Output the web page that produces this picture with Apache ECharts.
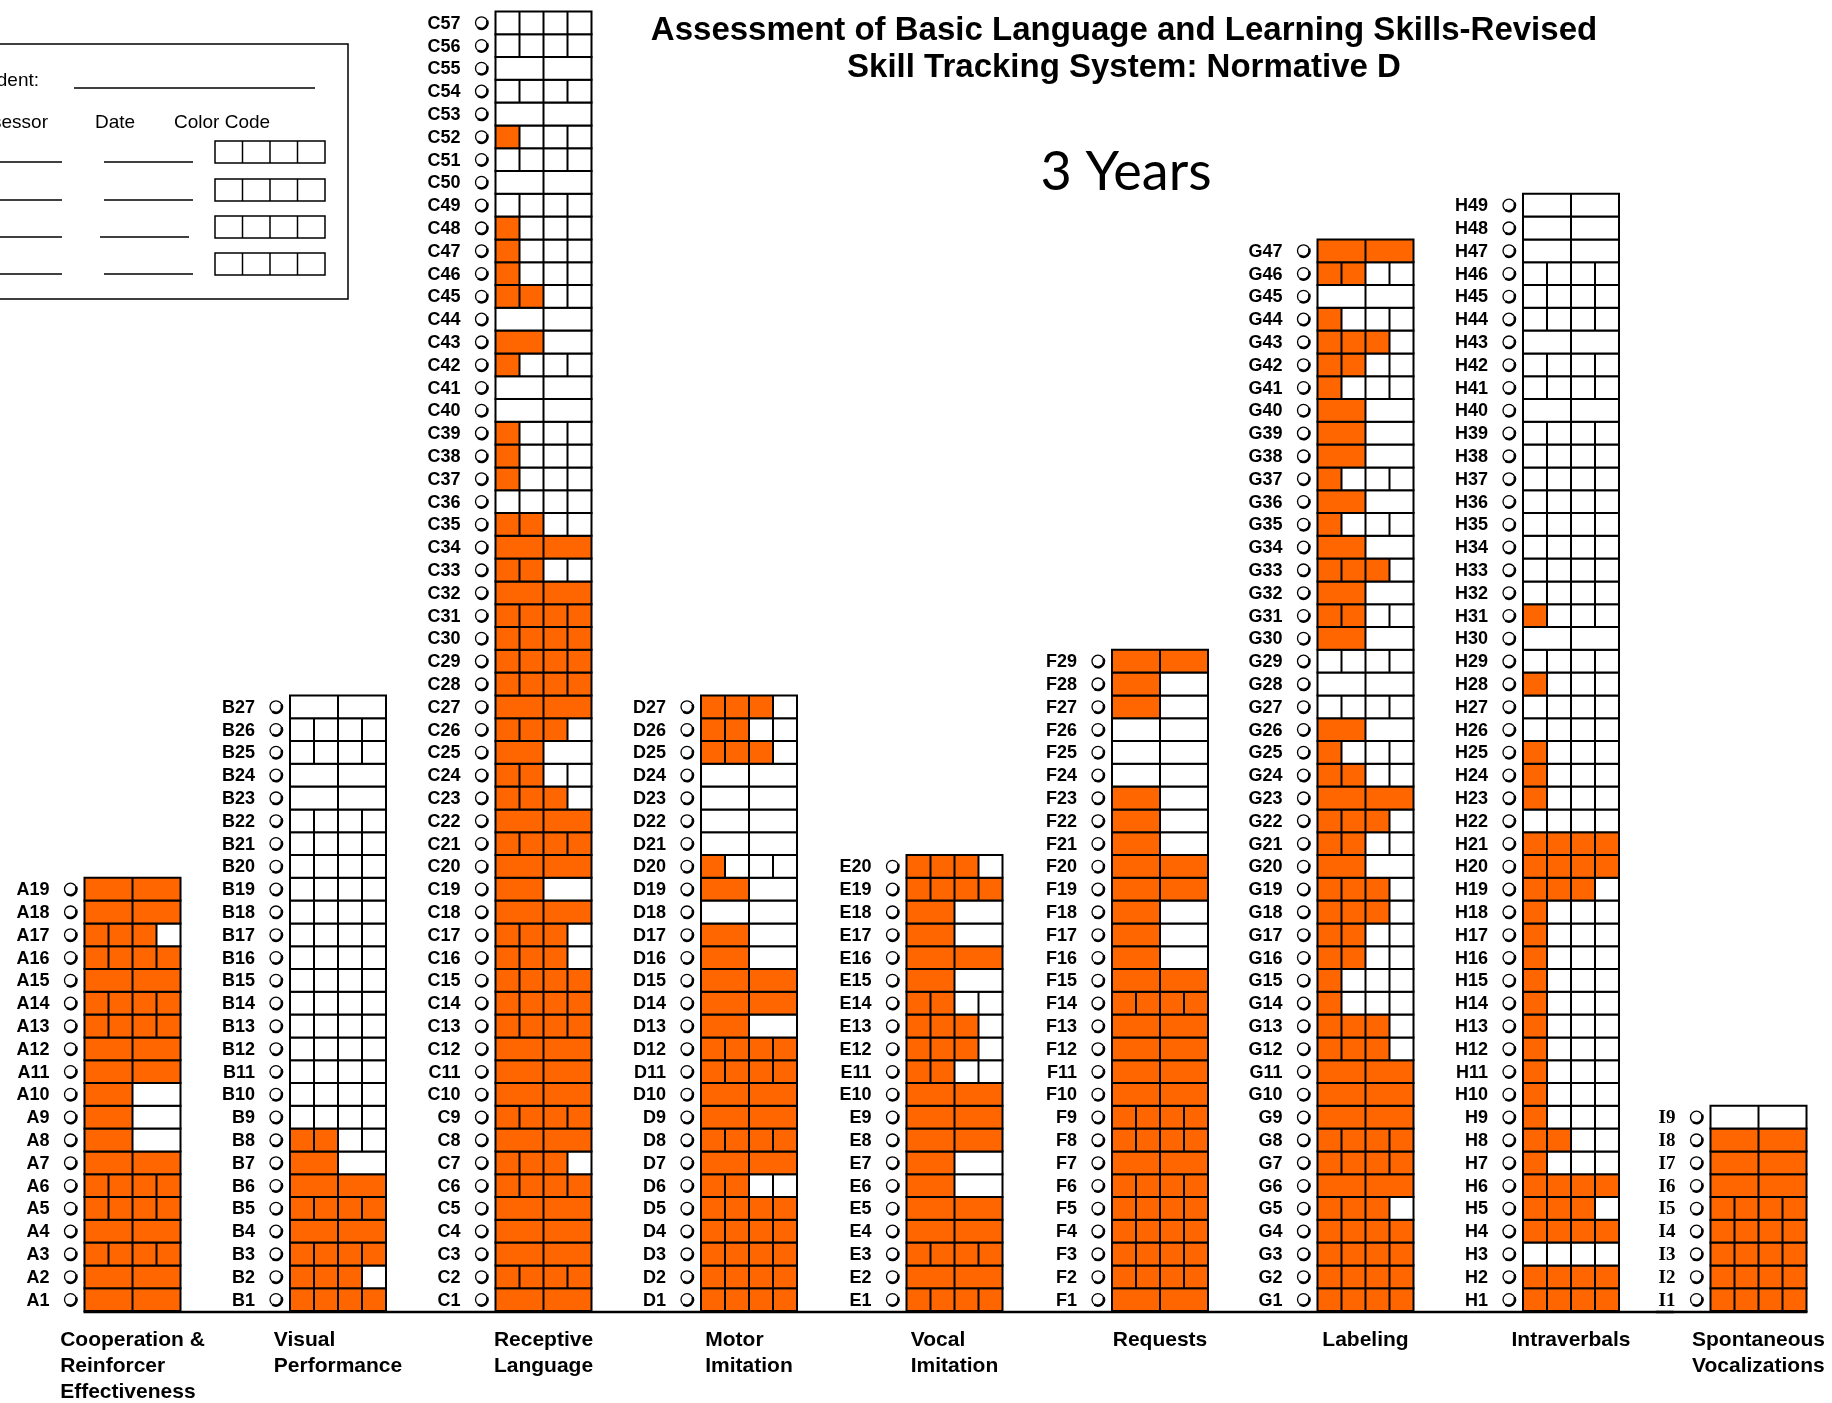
<!DOCTYPE html>
<html><head><meta charset="utf-8">
<script src="https://cdn.jsdelivr.net/npm/echarts@6/dist/echarts.min.js"></script>
<style>html,body{margin:0;padding:0;background:#fff;}#chart{width:1832px;height:1403px;}</style>
</head><body><div id="chart"></div>
<script>
// ---- DATA ----
const categories = ['Cooperation &\nReinforcer\nEffectiveness', 'Visual\nPerformance', 'Receptive\nLanguage', 'Motor\nImitation', 'Vocal\nImitation', 'Requests', 'Labeling', 'Intraverbals', 'Spontaneous\nVocalizations'];
const prefixes = ['A','B','C','D','E','F','G','H','I'];
// number of sub-boxes per skill (skill 1 first) and number of sub-boxes filled
const divsA = [2,2,4,2,4,4,2,2,2,2,2,2,4,4,2,4,4,2,2];
const fillA = [2,2,4,2,4,4,2,1,1,1,2,2,4,4,2,4,3,2,2];
const divsB = [4,4,4,2,4,2,2,4,4,4,4,4,4,4,4,4,4,4,4,4,4,4,2,2,4,4,2];
const fillB = [4,3,4,2,4,2,1,2,0,0,0,0,0,0,0,0,0,0,0,0,0,0,0,0,0,0,0];
const divsC = [2,4,2,2,2,4,4,2,4,2, 2,2,4,4,4,4,4,2,2,2, 4,2,4,4,2,4,2,4,4,4, 4,2,4,2,4,4,4,4,4,2, 2,4,2,2,4,4,4,4,4,2, 4,4,2,4,2,4,4];
const fillC = [2,4,2,2,2,4,3,2,4,2, 2,2,4,4,4,3,3,2,1,2, 4,2,3,2,1,3,2,4,4,4, 4,2,2,2,2,0,1,1,1,0, 0,1,1,0,2,1,1,1,0,0, 0,1,0,0,0,0,0];
const divsD = [4,4,4,4,4,4,2,4,2,2, 4,4,2,2,2,2,2,2,2,4, 2,2,2,2,4,4,4];
const fillD = [4,4,4,4,4,2,2,4,2,2, 4,4,1,2,2,1,1,0,1,1, 0,0,0,0,3,2,3];
const divsE = [4,2,4,2,2,2,2,2,2,2, 4,4,4,4,2,2,2,2,4,4];
const fillE = [4,2,4,2,2,1,1,2,2,2, 2,3,3,2,1,2,1,1,4,3];
const divsF = [2,4,4,4,4,4,2,4,4,2, 2,2,2,4,2,2,2,2,2,2, 2,2,2,2,2,2,2,2,2];
const fillF = [2,4,4,4,4,4,2,4,4,2, 2,2,2,4,2,1,1,1,2,2, 1,1,1,0,0,0,1,1,2];
const divsG = [4,4,4,4,4,2,4,4,2,2, 2,4,4,4,4,4,4,4,4,2, 4,4,2,4,4,2,4,2,4,2, 4,2,4,2,4,2,4,2,2,2, 4,4,4,4,2,4,2];
const fillG = [4,4,4,4,3,2,4,4,2,2, 2,3,3,1,1,2,2,3,3,1, 2,3,2,2,1,1,0,0,0,1, 2,1,3,1,1,1,1,1,1,1, 1,2,3,1,0,2,2];
const divsH = [4,4,4,4,4,4,4,4,4,4, 4,4,4,4,4,4,4,4,4,4, 4,4,4,4,4,4,4,4,4,2, 4,4,4,4,4,4,4,4,4,2, 4,4,2,4,4,4,2,2,2];
const fillH = [4,4,0,4,3,4,1,2,1,1, 1,1,1,1,1,1,1,1,3,4, 4,0,1,1,1,0,0,1,0,0, 1,0,0,0,0,0,0,0,0,0, 0,0,0,0,0,0,0,0,0];
const divsI = [4,4,4,4,4,2,2,2,2];
const fillI = [4,4,4,4,4,2,2,2,0];
const maxRows = 57;

// ---- LAYOUT / STYLE ----
const ORANGE = '#FF6600';
const BOX_W = 96;
const SANS = '"Liberation Sans", Arial, sans-serif';
const BAND = 205.5;
const GRID_TOP = 11.4, GRID_H = 1299.6;

const allDivs = [divsA, divsB, divsC, divsD, divsE, divsF, divsG, divsH, divsI];
const allFills = [fillA, fillB, fillC, fillD, fillE, fillF, fillG, fillH, fillI];
const cellsMain = [], cellsLast = [];
allDivs.forEach((d, c) => d.forEach((v, r) => {
  if (c < 8) cellsMain.push([c, r + 1, v, allFills[c][r], c]);
  else cellsLast.push([0, r + 1, v, allFills[c][r], c]);
}));

function renderCell(params, api) {
  const xi = api.value(0), row = api.value(1), div = api.value(2), fill = api.value(3), col = api.value(4);
  const top = api.coord([xi, row]);
  const bot = api.coord([xi, row - 1]);
  const x0 = top[0] - BOX_W / 2, y0 = top[1], h = bot[1] - top[1];
  const yc = y0 + h / 2;
  const ch = [];
  ch.push({type: 'rect', shape: {x: x0, y: y0, width: BOX_W, height: h}, style: {fill: '#fff'}});
  if (fill > 0) ch.push({type: 'rect', shape: {x: x0, y: y0, width: BOX_W * fill / div, height: h}, style: {fill: ORANGE}});
  for (let k = 1; k < div; k++) {
    const x = x0 + BOX_W * k / div;
    ch.push({type: 'line', shape: {x1: x, y1: y0, x2: x, y2: y0 + h}, style: {stroke: '#000', lineWidth: 2}});
  }
  ch.push({type: 'rect', shape: {x: x0, y: y0, width: BOX_W, height: h}, style: {fill: 'none', stroke: '#000', lineWidth: 2}});
  const isI = prefixes[col] === 'I';
  ch.push({type: 'text', style: {text: prefixes[col] + row, x: x0 - 35, y: yc + 1,
    align: 'right', verticalAlign: 'middle', textAlign: 'right', textVerticalAlign: 'middle',
    font: isI ? 'bold 19px "Liberation Serif", serif' : 'bold 18px ' + SANS, fill: '#000'}});
  const ccx = x0 - 14;
  ch.push({type: 'circle', shape: {cx: ccx, cy: yc, r: 6}, style: {fill: 'none', stroke: '#000', lineWidth: 1.3}});
  ch.push({type: 'arc', shape: {cx: ccx, cy: yc, r: 6, startAngle: -0.4, endAngle: 2.2, clockwise: true}, style: {fill: 'none', stroke: '#000', lineWidth: 2.6}});
  return {type: 'group', children: ch};
}

function baseRenderer(firstIdx, lastIdx, extendRight, extendLeft) {
  return function (params, api) {
    const p0 = api.coord([firstIdx, 0]);
    const p1 = api.coord([lastIdx, 0]);
    const band = api.size([1, 0])[0];
    const x1 = extendLeft ? p0[0] - band / 2 : p0[0] - BOX_W / 2 - 1;
    const x2 = extendRight ? p1[0] + band / 2 : p1[0] + BOX_W / 2 + 1;
    return {type: 'line', shape: {x1: x1, y1: p0[1] + 1, x2: x2, y2: p1[1] + 1}, style: {stroke: '#000', lineWidth: 2.5}};
  };
}

// legend box graphics
const legend = [
  {type: 'rect', shape: {x: -10, y: 44, width: 358, height: 255}, style: {fill: 'none', stroke: '#000', lineWidth: 1.5}},
  {type: 'text', style: {text: 'Student:', x: 39, y: 81, align: 'right', verticalAlign: 'middle', textAlign: 'right', textVerticalAlign: 'middle', font: '19px ' + SANS, fill: '#000'}},
  {type: 'line', shape: {x1: 74, y1: 88, x2: 315, y2: 88}, style: {stroke: '#000', lineWidth: 1.5}},
  {type: 'text', style: {text: 'Assessor', x: 48, y: 123, align: 'right', verticalAlign: 'middle', textAlign: 'right', textVerticalAlign: 'middle', font: '19px ' + SANS, fill: '#000'}},
  {type: 'text', style: {text: 'Date', x: 95, y: 123, align: 'left', verticalAlign: 'middle', textAlign: 'left', textVerticalAlign: 'middle', font: '19px ' + SANS, fill: '#000'}},
  {type: 'text', style: {text: 'Color Code', x: 174, y: 123, align: 'left', verticalAlign: 'middle', textAlign: 'left', textVerticalAlign: 'middle', font: '19px ' + SANS, fill: '#000'}}
];
[[162, 104], [200, 104], [237, 100], [274, 104]].forEach(([y, dx]) => {
  legend.push({type: 'line', shape: {x1: 0, y1: y, x2: 62, y2: y}, style: {stroke: '#000', lineWidth: 1.5}});
  legend.push({type: 'line', shape: {x1: dx, y1: y, x2: dx + 89, y2: y}, style: {stroke: '#000', lineWidth: 1.5}});
  legend.push({type: 'rect', shape: {x: 215, y: y - 21, width: 110, height: 22}, style: {fill: 'none', stroke: '#000', lineWidth: 1.5}});
  for (let k = 1; k < 4; k++) {
    const x = 215 + 110 * k / 4;
    legend.push({type: 'line', shape: {x1: x, y1: y - 21, x2: x, y2: y + 1}, style: {stroke: '#000', lineWidth: 1.5}});
  }
});

const xLabel = {interval: 0, margin: 16, align: 'center', verticalAlign: 'top', hideOverlap: false,
  formatter: (v) => v.split('\n').map(l => '{l|' + l + '}').join('\n'),
  rich: {l: {align: 'left', fontSize: 21, fontWeight: 'bold', fontFamily: SANS, color: '#000', lineHeight: 26}}};
const xCommon = {type: 'category', axisLine: {show: false}, axisTick: {show: false}, splitLine: {show: false}, axisLabel: xLabel};

const chart = echarts.init(document.getElementById('chart'), null, {renderer: 'canvas'});
chart.setOption({
  backgroundColor: '#fff',
  animation: false,
  grid: [
    {left: 132.5 - BAND / 2, top: GRID_TOP, width: BAND * 8, height: GRID_H, outerBoundsMode: 'none', containLabel: false},
    {left: 1758.5 - BAND / 2, top: GRID_TOP, width: BAND, height: GRID_H, outerBoundsMode: 'none', containLabel: false}
  ],
  xAxis: [
    Object.assign({gridIndex: 0, data: categories.slice(0, 8)}, xCommon),
    Object.assign({gridIndex: 1, data: categories.slice(8)}, xCommon)
  ],
  yAxis: [
    {gridIndex: 0, type: 'value', min: 0, max: maxRows, show: false},
    {gridIndex: 1, type: 'value', min: 0, max: maxRows, show: false}
  ],
  graphic: [
    ...legend,
    {type: 'text', style: {text: 'Assessment of Basic Language and Learning Skills-Revised', x: 1124, y: 30.5, align: 'center', verticalAlign: 'middle', textAlign: 'center', textVerticalAlign: 'middle', font: 'bold 33px ' + SANS, fill: '#000'}},
    {type: 'text', style: {text: 'Skill Tracking System: Normative D', x: 1124, y: 67.5, align: 'center', verticalAlign: 'middle', textAlign: 'center', textVerticalAlign: 'middle', font: 'bold 33px ' + SANS, fill: '#000'}},
    {type: 'text', style: {text: '3 Years', x: 1126, y: 172.5, align: 'center', verticalAlign: 'middle', textAlign: 'center', textVerticalAlign: 'middle', font: '54px Lato, "Open Sans", sans-serif', fill: '#000'}}
  ],
  series: [
    {type: 'custom', xAxisIndex: 0, yAxisIndex: 0, renderItem: renderCell, data: cellsMain, encode: {x: 0, y: 1}, z: 2},
    {type: 'custom', xAxisIndex: 1, yAxisIndex: 1, renderItem: renderCell, data: cellsLast, encode: {x: 0, y: 1}, z: 2},
    {type: 'custom', xAxisIndex: 0, yAxisIndex: 0, renderItem: baseRenderer(0, 7, true, false), data: [[0, 0]], encode: {x: 0, y: 1}, z: 3},
    {type: 'custom', xAxisIndex: 1, yAxisIndex: 1, renderItem: baseRenderer(0, 0, false, true), data: [[0, 0]], encode: {x: 0, y: 1}, z: 3}
  ]
});
</script></body></html>
